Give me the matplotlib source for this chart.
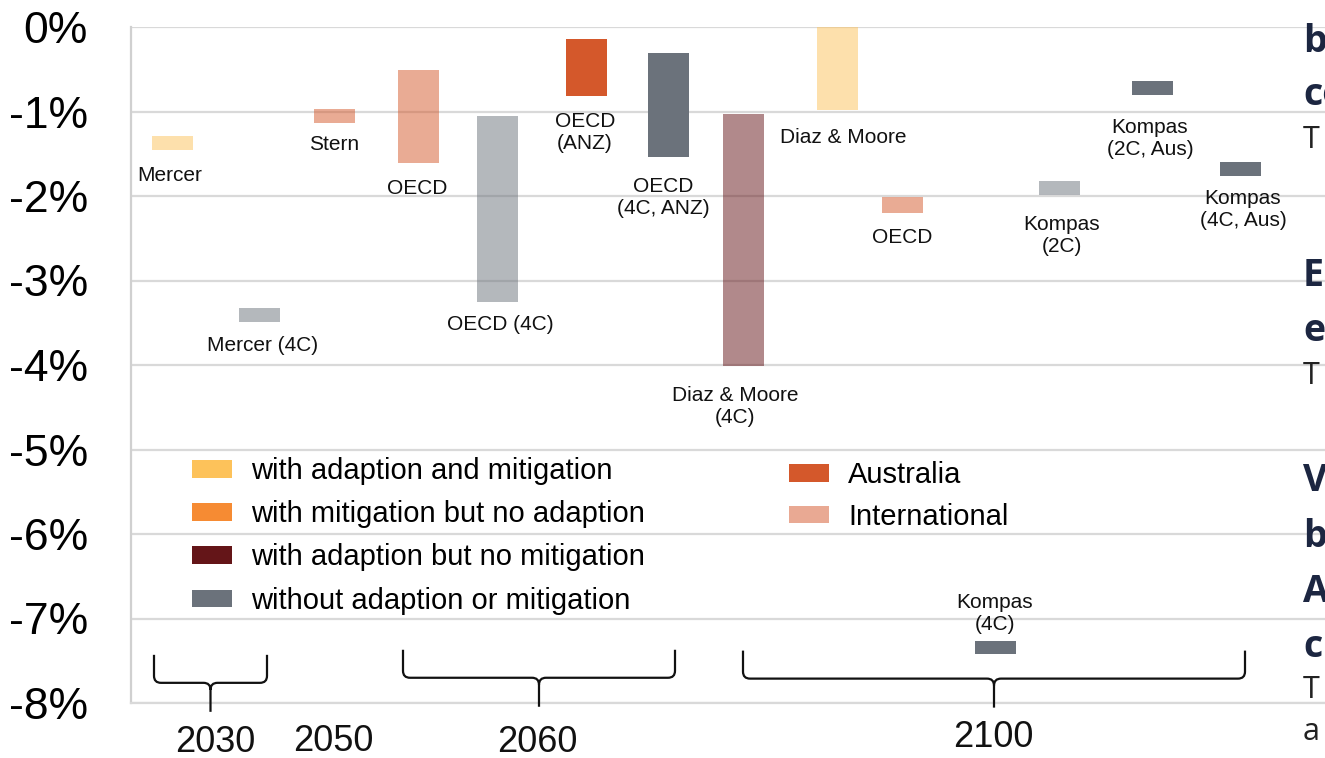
import matplotlib
matplotlib.use("Agg")
import matplotlib.pyplot as plt
from matplotlib.patches import Patch, PathPatch
from matplotlib.path import Path

plt.rcParams["font.family"] = ["Liberation Sans", "DejaVu Sans"]

# ---- data -------------------------------------------------------------
study_labels = [
    "Mercer", "Mercer (4C)", "Stern", "OECD", "OECD (4C)",
    "OECD\n(ANZ)", "OECD\n(4C, ANZ)", "Diaz & Moore\n(4C)", "Diaz & Moore",
    "OECD", "Kompas\n(4C)", "Kompas\n(2C)", "Kompas\n(2C, Aus)", "Kompas\n(4C, Aus)",
]
gdp_high = [-1.29, -3.33, -0.97, -0.51, -1.05, -0.14, -0.31, -1.03, 0.00,
            -2.01, -7.27, -1.82, -0.64, -1.60]
gdp_low = [-1.46, -3.49, -1.14, -1.61, -3.25, -0.82, -1.54, -4.01, -0.98,
           -2.20, -7.42, -1.99, -0.80, -1.76]
scenario = ["adapt_mitig", "none", "aus", "aus", "none",
            "aus", "none", "adapt_only", "adapt_mitig",
            "aus", "none", "none", "none", "none"]
region = ["intl", "intl", "intl", "intl", "intl",
          "aus", "aus", "intl", "intl",
          "intl", "aus", "intl", "aus", "aus"]

year_labels = ["2030", "2050", "2060", "2100"]
y_ticks = [0, -1, -2, -3, -4, -5, -6, -7, -8]

scenario_legend = ["with adaption and mitigation", "with mitigation but no adaption",
                   "with adaption but no mitigation", "without adaption or mitigation"]
region_legend = ["Australia", "International"]

# ---- layout / style ---------------------------------------------------
bar_x = [172, 259, 334, 418, 497, 586, 668, 743, 837, 902, 995, 1059, 1152, 1240]
bar_w = 41
label_off = [(-2, -25), (4, -24), (0, -21), (-1, -25), (3, -23), (-1, -36),
             (-5, -40), (-8, -41), (6, -28), (0, -25), (0, 40), (3, -40),
             (-2, -44), (3, -34)]
year_x = [215, 333, 537, 993]
year_y = [-8.47, -8.45, -8.47, -8.41]
brace_spans = [(154, 267), (403, 675), (743, 1245)]
brace_tops = [-7.43, -7.37, -7.38]

scenario_colors = {
    "adapt_mitig": "#FDC25A",
    "mitig_only": "#F68B33",
    "adapt_only": "#641518",
    "none": "#6B727B",
    "aus": "#D4582B",
}
legend_colors = ["#FDC25A", "#F68B33", "#641518", "#6B727B"]
region_colors = ["#D4582B", "#E9A993"]
region_alpha = {"aus": 1.0, "intl": 0.5}

W, H = 1325, 758
fig = plt.figure(figsize=(W / 100, H / 100), dpi=100)
ax = fig.add_axes([131 / W, (H - 703) / H, 1 - 131 / W, (703 - 27) / H])
ax.set_xlim(131, 1325)
ax.set_ylim(-8, 0)

ax.set_axisbelow(True)
ax.yaxis.grid(True, color="#D9D9D9", linewidth=1.6)
ax.xaxis.grid(False)
for s in ("top", "right"):
    ax.spines[s].set_visible(False)
ax.spines["left"].set_color("#D0D0D0")
ax.spines["left"].set_linewidth(1.6)
ax.spines["bottom"].set_color("#D9D9D9")
ax.spines["bottom"].set_linewidth(1.6)

ax.set_yticks(y_ticks)
ax.set_yticklabels([f"{v}%" for v in y_ticks], fontsize=32)
ax.tick_params(axis="y", length=0, pad=31)
ax.set_xticks([])

# ---- bars ---------------------------------------------------------------
for x, hi, lo, sc, rg in zip(bar_x, gdp_high, gdp_low, scenario, region):
    ax.bar(x, hi - lo, bottom=lo, width=bar_w, color=scenario_colors[sc],
           alpha=region_alpha[rg], linewidth=0, zorder=3)

for x, lo, lab, (dx, dy) in zip(bar_x, gdp_low, study_labels, label_off):
    ax.annotate(lab, (x, lo), xytext=(dx, dy), textcoords="offset pixels",
                ha="center", va="center", fontsize=15, color="#111111",
                zorder=4, annotation_clip=False)

# ---- braces grouping the studies by horizon year ------------------------
px_y = 676 / 8.0  # pixels per percentage point


def brace(x0, x1, ytop):
    yh = ytop - 28 / px_y
    ytip = yh - 29 / px_y
    xc = (x0 + x1) / 2
    r = 7
    ry = r / px_y
    verts = [
        (x0, ytop), (x0, yh + ry), (x0, yh), (x0 + r, yh),
        (xc - r, yh), (xc, yh), (xc, yh - ry),
        (xc, ytip), (xc, yh - ry),
        (xc, yh), (xc + r, yh), (x1 - r, yh),
        (x1, yh), (x1, yh + ry), (x1, ytop),
    ]
    codes = [Path.MOVETO, Path.LINETO, Path.CURVE3, Path.CURVE3,
             Path.LINETO, Path.CURVE3, Path.CURVE3,
             Path.LINETO, Path.MOVETO,
             Path.CURVE3, Path.CURVE3, Path.LINETO,
             Path.CURVE3, Path.CURVE3, Path.LINETO]
    return Path(verts, codes)


for (x0, x1), yt in zip(brace_spans, brace_tops):
    ax.add_patch(PathPatch(brace(x0, x1, yt), facecolor="none",
                           edgecolor="#111111", linewidth=1.6,
                           clip_on=False, zorder=4))

for x, y, t in zip(year_x, year_y, year_labels):
    ax.text(x, y, t, ha="center", va="center", fontsize=26,
            color="#111111", clip_on=False)

# ---- legends ------------------------------------------------------------
leg_kw = dict(frameon=False, fontsize=21, handlelength=1.37, handleheight=0.55,
              handletextpad=0.65, borderpad=0, borderaxespad=0, loc="upper left")
h1 = [Patch(facecolor=c, edgecolor="none") for c in legend_colors]
leg1 = ax.legend(h1, scenario_legend, bbox_to_anchor=(192, -5.09),
                 bbox_transform=ax.transData, labelspacing=0.52, **leg_kw)
ax.add_artist(leg1)
h2 = [Patch(facecolor=c, edgecolor="none") for c in region_colors]
leg2 = ax.legend(h2, region_legend, bbox_to_anchor=(789, -5.14),
                 bbox_transform=ax.transData, labelspacing=0.46, **leg_kw)

# ---- neighbouring text column at the right edge -------------------------
side_bold = [("b", 42), ("co", 95), ("E", 276), ("e", 331),
             ("V", 481), ("b", 537), ("A", 592), ("c", 647)]
side_plain = [("T", 140), ("T", 376), ("T", 690), ("a", 732)]
for t, yp in side_bold:
    fig.text(1303 / W, 1 - yp / H, t, ha="left", va="center", fontsize=27,
             fontweight="bold", color="#1C2641",
             family=["Open Sans", "DejaVu Sans"])
for t, yp in side_plain:
    fig.text(1303 / W, 1 - yp / H, t, ha="left", va="center", fontsize=22,
             color="#222222", family=["Open Sans", "DejaVu Sans"])

fig.savefig("out.png", dpi=100, facecolor="white")
